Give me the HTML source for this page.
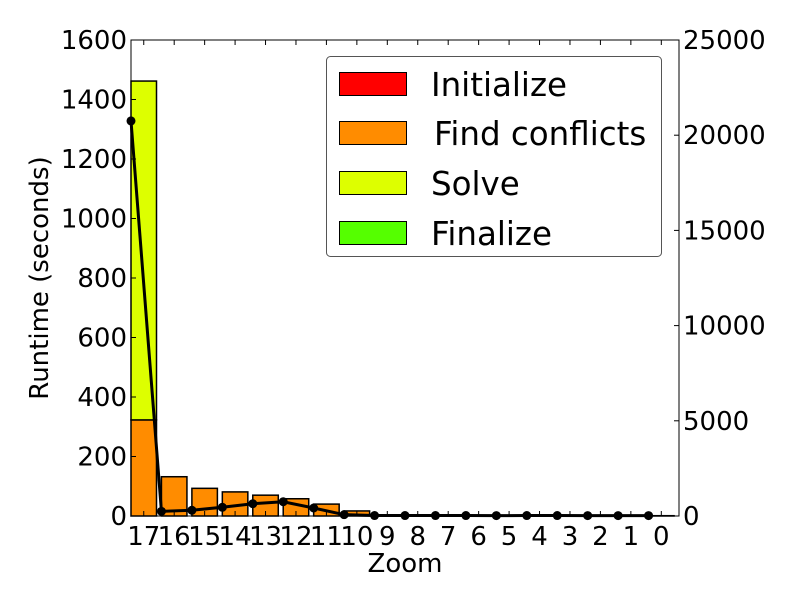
<!DOCTYPE html>
<html><head><meta charset="utf-8"><style>
body{margin:0;background:#fff}
svg text{font-family:"DejaVu Sans","Liberation Sans",sans-serif;fill:#000}
</style></head><body>
<svg id="chart" width="800" height="600" xmlns="http://www.w3.org/2000/svg">
<rect width="800" height="600" fill="#fff"/>
<g id="bars"></g>
<g id="line"></g>
<rect x="131" y="40" width="548" height="476" fill="none" stroke="#000" stroke-width="1"/>
<g id="axes"></g>
<text x="48" y="278" font-size="26" text-anchor="middle" transform="rotate(-90 48 278)">Runtime (seconds)</text>
<text x="405" y="572" font-size="26" text-anchor="middle">Zoom</text>
<g>
<rect x="326.5" y="56.5" width="335" height="200" rx="4" fill="#fff" stroke="#555"/>
<rect x="339.5" y="72.5" width="67" height="23" fill="#ff0000" stroke="#000"/>
<text x="431" y="96" font-size="32.5">Initialize</text>
<rect x="339.5" y="121.5" width="67" height="23" fill="#ff8c00" stroke="#000"/>
<text x="434" y="145" font-size="32.5">Find conflicts</text>
<rect x="339.5" y="171.5" width="67" height="23" fill="#ddff00" stroke="#000"/>
<text x="431" y="195" font-size="32.5">Solve</text>
<rect x="339.5" y="221.5" width="67" height="23" fill="#55ff00" stroke="#000"/>
<text x="431" y="245" font-size="32.5">Finalize</text>
</g>
</svg>
<script>
const categories=["17","16","15","14","13","12","11","10","9","8","7","6","5","4","3","2","1","0"];
const initialize=[0,0,0,0,0,0,0,0,0,0,0,0,0,0,0,0,0,0];
const findConflicts=[323,132,93,81,70,58,40,17,3,1,1,1,1,1,1,1,1,1];
const solve=[1139,0,0,0,0,0,0,0,0,0,0,0,0,0,0,0,0,0];
const finalize=[0,0,0,0,0,0,0,0,0,0,0,0,0,0,0,0,0,0];
const totalRuntime=[20750,245,300,457,645,750,420,70,25,25,25,25,20,25,25,20,20,20];
const leftTicks=[0,200,400,600,800,1000,1200,1400,1600];
const rightTicks=[0,5000,10000,15000,20000,25000];

const X0=131,X1=679,Y0=516,Y1=40;
const step=(X1-X0)/categories.length, bw=25.5;
const xL=i=>X0+i*step;
const yL=v=>Y0-v/1600*(Y0-Y1);
const yR=v=>Y0-v/25000*(Y0-Y1);
const NS="http://www.w3.org/2000/svg";
function mk(t,a,p){const e=document.createElementNS(NS,t);for(const k in a)e.setAttribute(k,a[k]);p.appendChild(e);return e;}
const bars=document.getElementById('bars'),line=document.getElementById('line'),axes=document.getElementById('axes');
const series=[[initialize,'#ff0000','initialize'],[findConflicts,'#ff8c00','find-conflicts'],[solve,'#ddff00','solve'],[finalize,'#55ff00','finalize']];
categories.forEach((c,i)=>{
  let base=0;
  series.forEach(([arr,col,nm])=>{
    const v=arr[i]; if(v<=0)return;
    const r=mk('rect',{x:xL(i),y:yL(base+v),width:bw,height:yL(base)-yL(base+v),fill:col,stroke:'#000','stroke-width':1.5},bars);
    
    
    base+=v;
  });
});
const pts=totalRuntime.map((v,i)=>xL(i)+','+yR(v)).join(' ');
const pl=mk('polyline',{points:pts,fill:'none',stroke:'#000','stroke-width':3},line);


totalRuntime.forEach((v,i)=>{
  const d=mk('circle',{cx:xL(i),cy:yR(v),r:4.5,fill:'#000'},line);
  
  
});
leftTicks.forEach(v=>{
  const y=yL(v);
  mk('line',{x1:X0,x2:X0+5,y1:y,y2:y,stroke:'#000'},axes);
  const t=mk('text',{x:X0-4,y:y+9,'font-size':26,'text-anchor':'end'},axes);t.textContent=v;
  
  
});
rightTicks.forEach(v=>{
  const y=yR(v);
  mk('line',{x1:X1-5,x2:X1,y1:y,y2:y,stroke:'#000'},axes);
  const t=mk('text',{x:X1+4,y:y+9,'font-size':26},axes);t.textContent=v;
  
  
});
categories.forEach((c,i)=>{
  const x=xL(i)+bw/2;
  mk('line',{x1:x,x2:x,y1:Y0,y2:Y0-5,stroke:'#000'},axes);
  mk('line',{x1:x,x2:x,y1:Y1,y2:Y1+5,stroke:'#000'},axes);
  const t=mk('text',{x:x,y:Y0+29,'font-size':26,'text-anchor':'middle'},axes);t.textContent=c;
  
  
});
</script>
</body></html>
